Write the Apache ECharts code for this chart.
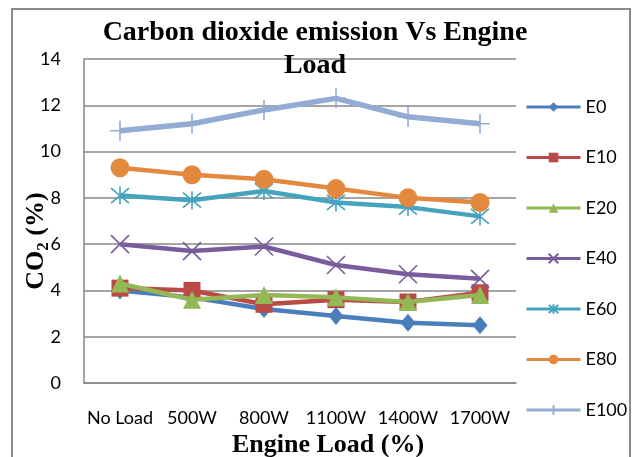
<!DOCTYPE html>
<html>
<head>
<meta charset="utf-8">
<script src="https://cdn.jsdelivr.net/npm/echarts@6/dist/echarts.min.js"></script>
<style>html,body{margin:0;padding:0;background:#fff}#c{width:632px;height:457px}</style>
</head>
<body>
<div id="c"></div>
<script>
var categories = ['No Load', '500W', '800W', '1100W', '1400W', '1700W'];
var seriesNames = ['E0', 'E10', 'E20', 'E40', 'E60', 'E80', 'E100'];
var E0 = [4.0, 3.7, 3.2, 2.9, 2.6, 2.5];
var E10 = [4.1, 4.0, 3.4, 3.6, 3.5, 3.9];
var E20 = [4.3, 3.6, 3.8, 3.7, 3.5, 3.8];
var E40 = [6.0, 5.7, 5.9, 5.1, 4.7, 4.5];
var E60 = [8.1, 7.9, 8.3, 7.8, 7.6, 7.2];
var E80 = [9.3, 9.0, 8.8, 8.4, 8.0, 7.8];
var E100 = [10.9, 11.2, 11.8, 12.3, 11.5, 11.2];
var yTicks = [0, 2, 4, 6, 8, 10, 12, 14];

var values = [E0, E10, E20, E40, E60, E80, E100];
var colors = ['#4A7EBB', '#B94A46', '#94B856', '#7A5C9C', '#45A3BE', '#E2893E', '#93ACD4'];
var symX = 'path://M0,0L10,10M10,0L0,10';
var symStar = 'path://M0,1L10,11M10,1L0,11M5,0L5,12';
var symPlus = 'path://M5,0L5,10M0,5L10,5';
var symbols = ['diamond', 'rect', 'triangle', symX, symStar, 'circle', symPlus];
var sizes = [[15, 18], 17, 18, 18, 18, 19, 20];
var strokeOnly = [false, false, false, true, true, false, true];
var widths = [4.5, 4.5, 4.5, 4.5, 4.5, 4.5, 5.5];

var series = seriesNames.map(function (n, i) {
  return {
    name: n,
    type: 'line',
    data: values[i],
    symbol: symbols[i],
    symbolSize: sizes[i],
    showAllSymbol: true,
    z: 2 + i,
    lineStyle: { color: colors[i], width: widths[i] },
    itemStyle: strokeOnly[i]
      ? { color: 'none', borderColor: colors[i], borderWidth: 1.6 }
      : { color: colors[i], borderWidth: 0 },
    emphasis: { disabled: true }
  };
});

var chart = echarts.init(document.getElementById('c'));
chart.setOption({
  animation: false,
  backgroundColor: '#fff',
  color: colors,
  title: {
    text: 'Carbon dioxide emission Vs Engine\nLoad',
    left: 310,
    top: 11,
    textAlign: 'center',
    textStyle: {
      fontFamily: 'Liberation Serif',
      fontWeight: 'bold',
      fontSize: 28,
      lineHeight: 33,
      color: '#000'
    }
  },
  graphic: [{
    type: 'rect',
    shape: { x: 12, y: 9, width: 618, height: 470 },
    style: { fill: 'none', stroke: '#8a8a8a', lineWidth: 2 },
    silent: true,
    z: -1
  }],
  legend: {
    orient: 'vertical',
    left: 525,
    top: 98,
    padding: 0,
    itemWidth: 54,
    itemHeight: 12,
    itemGap: 32.5,
    lineStyle: { width: 3 },
    textStyle: { fontFamily: 'Lato', fontSize: 18, color: '#000' },
    data: seriesNames
  },
  grid: { left: 84, right: 116, top: 59, bottom: 74, containLabel: false, outerBoundsMode: 'none' },
  xAxis: {
    type: 'category',
    data: categories,
    boundaryGap: true,
    axisLine: { lineStyle: { color: '#878787', width: 1.5 } },
    axisTick: { show: false },
    axisLabel: { fontFamily: 'Lato', fontSize: 18, color: '#000', margin: 26, interval: 0 },
    name: 'Engine Load (%)',
    nameLocation: 'middle',
    nameGap: 49,
    nameMoveOverlap: false,
    nameTextStyle: {
      fontFamily: 'Liberation Serif', fontWeight: 'bold', fontSize: 26, color: '#000',
      padding: [0, 0, 0, 56]
    }
  },
  yAxis: {
    type: 'value',
    min: 0,
    max: 14,
    interval: 2,
    axisLine: { show: true, lineStyle: { color: '#878787', width: 1.5 } },
    axisTick: { show: false },
    splitLine: { lineStyle: { color: '#878787', width: 1.5 } },
    axisLabel: {
      fontFamily: 'Lato', fontSize: 18, color: '#000', margin: 23,
      formatter: function (v) { return yTicks.indexOf(v) >= 0 ? String(v) : ''; }
    },
    name: '{a|CO}{b|2}{a| (%)}',
    nameLocation: 'middle',
    nameGap: 32,
    nameMoveOverlap: false,
    nameTextStyle: {
      fontFamily: 'Liberation Serif', fontWeight: 'bold', fontSize: 26, color: '#000',
      padding: [0, 40, 0, 0],
      rich: {
        a: { fontFamily: 'Liberation Serif', fontWeight: 'bold', fontSize: 26, color: '#000' },
        b: { fontFamily: 'Liberation Serif', fontWeight: 'bold', fontSize: 17, color: '#000', padding: [14, 0, 0, 0] }
      }
    }
  },
  series: series
});
</script>
</body>
</html>
